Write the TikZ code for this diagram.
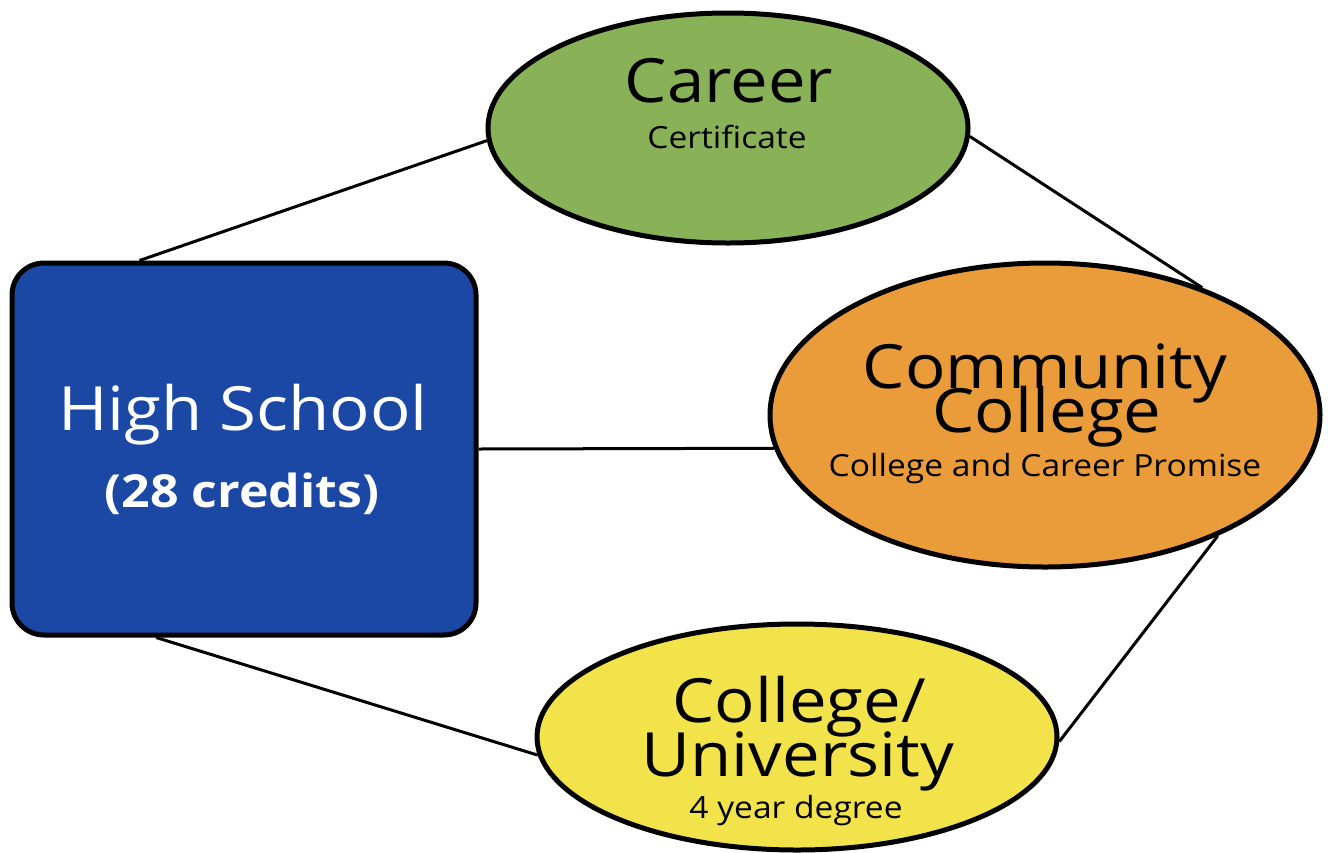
\documentclass[tikz,border=0pt]{standalone}
\usepackage{fontspec}
\setmainfont[FakeStretch=1.1]{Open Sans}
\usetikzlibrary{shapes.geometric,backgrounds}
\definecolor{hsblue}{HTML}{1B47A5}
\definecolor{cgreen}{HTML}{89B157}
\definecolor{corange}{HTML}{EA9C3A}
\definecolor{cyellow}{HTML}{F3E34B}
\tikzset{
  outline/.style={draw=black, line width=5pt},
  oval/.style={outline, ellipse, inner sep=0pt},
  link/.style={draw=black, line width=3pt},
  big/.style={anchor=base, inner sep=0pt, font=\fontsize{61}{61}\selectfont},
  small/.style={anchor=base, inner sep=0pt, font=\fontsize{30.5}{30.5}\selectfont},
}
\begin{document}
\begin{tikzpicture}[x=1pt,y=-1pt]
\useasboundingbox (0,0) rectangle (1328,852);
% shapes
\node[outline, rectangle, rounded corners=32pt, fill=hsblue, minimum width=464pt, minimum height=372pt, inner sep=0pt] (hs) at (244,449) {};
\node[oval, fill=cgreen, minimum width=480pt, minimum height=230pt] (career) at (728,128) {};
\node[oval, fill=corange, minimum width=550pt, minimum height=304pt] (cc) at (1045,415) {};
\node[oval, fill=cyellow, minimum width=520pt, minimum height=226pt] (uni) at (797,737) {};
% connectors
\begin{scope}[on background layer]
\draw[link] (hs.119) -- (career.183);
\draw[link] (career.-2) -- (cc.39.6);
\draw[link] (hs.east) -- (cc.187);
\draw[link] (hs.245.8) -- (uni.184.5);
\draw[link] (cc.-35.5) -- (uni.-1.8);
\end{scope}
% texts
\node[big, text=white] (hsT) at (243,430) {High School};
\node[anchor=base, inner sep=0pt, text=white, font=\fontsize{45.5}{45.5}\selectfont\bfseries] (hsS) at (242,507) {(28 credits)};
\node[big] (careerT) at (729,102) {Career};
\node[small] (careerS) at (727,148) {Certificate};
\node[big] (ccT1) at (1045,388) {Community};
\node[big] (ccT2) at (1047,432) {College};
\node[small] (ccS) at (1045,476) {College and Career Promise};
\node[big] (uniT1) at (799,722) {College/};
\node[big] (uniT2) at (798,776) {University};
\node[small] (uniS) at (796,818) {4 year degree};
\end{tikzpicture}
\end{document}
